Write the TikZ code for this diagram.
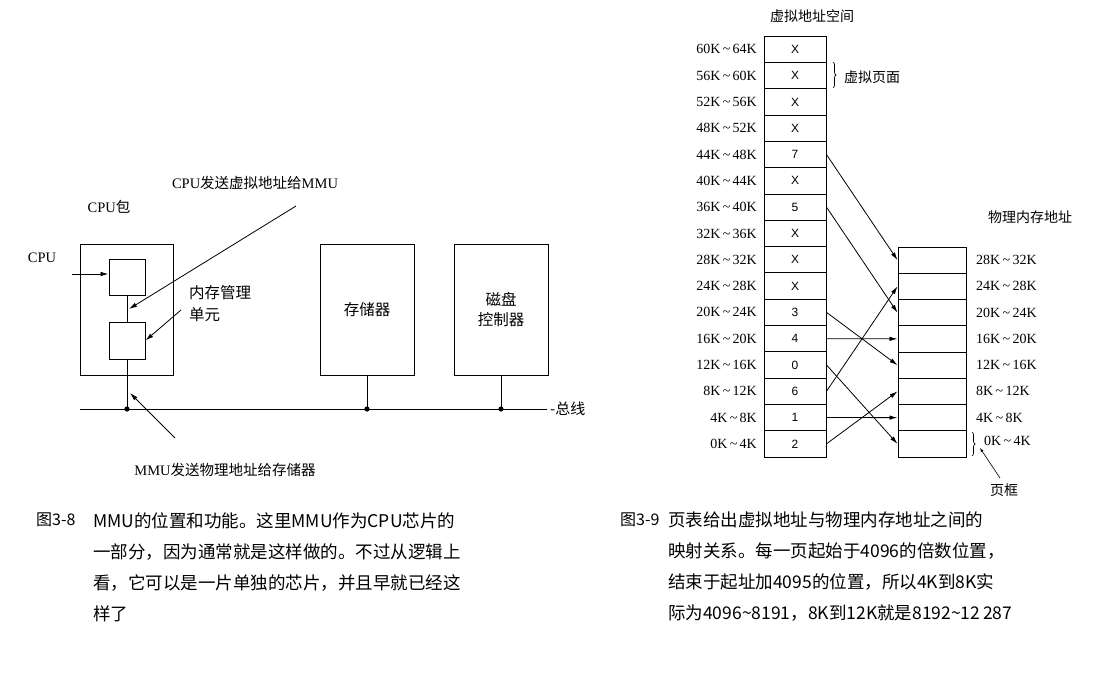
\documentclass[tikz,border=0pt]{standalone}
\usepackage{fontspec}
\setmainfont{Liberation Serif}
\newfontfamily\cjk{Noto Sans CJK SC}
\newfontfamily\sfx{Liberation Sans}
\usetikzlibrary{arrows.meta,decorations.pathreplacing}
\newcommand\tl{\,\char"7E\,}
\begin{document}
\begin{tikzpicture}[x=1pt,y=-1pt,
  box/.style={draw,line width=1pt,minimum width=#1,inner sep=0},
  lab/.style={font=\fontsize{14.5}{16}\selectfont,inner sep=1pt},
  captxt/.style={font=\cjk\fontsize{17.5}{31}\selectfont,align=left,anchor=north west,inner sep=0},
  arr/.style={-{Latex[length=8pt,width=4.5pt]},line width=0.8pt},
  ln/.style={line width=1pt},
  vcell/.style={draw,line width=1pt,minimum width=62pt,minimum height=26.3pt,inner sep=0,font=\sfx\fontsize{12}{14}\selectfont},
  pcell/.style={draw,line width=1pt,minimum width=68pt,minimum height=26.25pt,inner sep=0},
  vlab/.style={anchor=east,font=\fontsize{14}{15}\selectfont,inner sep=0},
  plab/.style={anchor=west,font=\fontsize{14}{15}\selectfont,inner sep=0}]
\useasboundingbox (0,0) rectangle (1109,696);
% ---- left figure
\node[box=93pt,minimum height=131pt] (pkg) at (126.5,309.5) {};
\node[box=36pt,minimum height=36pt] (cpu) at (127,277) {};
\node[box=36pt,minimum height=37pt] (mmu) at (127,340.5) {};
\node[box=94pt,minimum height=131pt,lab,font=\cjk\fontsize{15.5}{17}\selectfont] (mem) at (367,309.5) {存储器};
\node[box=94pt,minimum height=131pt,lab,align=center,font=\cjk\fontsize{15.5}{20}\selectfont] (disk) at (501,309.5) {磁盘\\控制器};
\coordinate (b0) at (80,409); \coordinate (b1) at (547,409);
\draw[ln] (b0) -- (b1);
\node[lab,anchor=west,font=\cjk\fontsize{15}{17}\selectfont] (bus) at (549,409) {-总线};
\coordinate (d1) at (127,409); \coordinate (d2) at (367,409); \coordinate (d3) at (501,409);
\draw[ln] (cpu.south) -- (mmu.north);
\draw[ln] (mmu.south) -- (d1);
\draw[ln] (mem.south) -- (d2);
\draw[ln] (disk.south) -- (d3);
\foreach \d in {d1,d2,d3} \fill (\d) circle (2.6pt);
\node[lab] (pkgl) at (109,207) {CPU{\cjk 包}};
\node[lab] (cpul) at (42,258) {CPU};
\coordinate (c0) at (72,274);
\draw[arr] (c0) -- (cpu.west|-c0);
\node[lab] (t1) at (255,183) {CPU{\cjk 发送虚拟地址给}MMU};
\coordinate (t1e) at (296,206); \coordinate (t1h) at (129,309);
\draw[arr] (t1e) -- (t1h);
\node[lab,anchor=west,align=left,font=\cjk\fontsize{15.5}{22}\selectfont] (mmul) at (188,304) {内存管理\\单元};
\coordinate (m0) at (181,310);
\draw[arr] (m0) -- (mmu.east);
\node[lab] (t2) at (225,470) {MMU{\cjk 发送物理地址给存储器}};
\coordinate (t2e) at (175,438); \coordinate (t2h) at (130,393);
\draw[arr] (t2e) -- (t2h);
% ---- right figure
\node[lab,font=\cjk\fontsize{14}{16}\selectfont] (vas) at (812,16) {虚拟地址空间};
\foreach [count=\i from 0] \v/\r in {2/0K,1/4K,6/8K,0/12K,4/16K,3/20K,X/24K,X/28K,X/32K,5/36K,X/40K,7/44K,X/48K,X/52K,X/56K,X/60K}{
  \pgfmathtruncatemacro\hi{(\i+1)*4}
  \node[vcell] (v\i) at (795,{457-(\i+0.5)*26.3}) {\v};
  \node[vlab] (vl\i) at (757,{457-(\i+0.5)*26.3}) {\r\tl\hi K};
}
\foreach \i in {0,...,7}{
  \pgfmathtruncatemacro\lo{\i*4}\pgfmathtruncatemacro\hi{\i*4+4}
  \node[pcell] (p\i) at (932,{457-(\i+0.5)*26.25}) {};
  \ifnum\i>0 \node[plab] (pl\i) at (976,{457-(\i+0.5)*26.25}) {\lo K\tl\hi K};\fi
}
\node[lab,font=\cjk\fontsize{14}{16}\selectfont] (pma) at (1030,217) {物理内存地址};
\draw[line width=0.7pt,decorate,decoration={brace,amplitude=3pt}] (833,62) -- (833,88);
\node[lab,anchor=west,font=\cjk\fontsize{14}{16}\selectfont] (vp) at (843,77) {虚拟页面};
\draw[line width=0.7pt,decorate,decoration={brace,amplitude=3pt}] (972,432) -- (972,456);
\node[plab] (pl0) at (984,441) {0K\tl 4K};
\node[lab,font=\cjk\fontsize{14}{16}\selectfont] (pf) at (1004,490) {页框};
\coordinate (pfa) at (1000,478); \coordinate (pfb) at (980,448);
\draw[line width=0.6pt,-{Latex[length=4pt,width=3pt]}] (pfa) -- (pfb);
\foreach \a/\b in {11/7,9/5,5/3,4/4,3/0,2/6,1/1,0/2}
  \draw[arr] (v\a.east) -- (p\b.west);
% ---- captions
\node[captxt,font=\cjk\fontsize{16}{31}\selectfont] (c8) at (36,513) {图3-8};
\node[captxt] (c8t) at (93,512) {MMU的位置和功能。这里MMU作为CPU芯片的\\一部分，因为通常就是这样做的。不过从逻辑上\\看，它可以是一片单独的芯片，并且早就已经这\\样了};
\node[captxt,font=\cjk\fontsize{16}{31}\selectfont] (c9) at (620,513) {图3-9};
\node[captxt] (c9t) at (668,512) {页表给出虚拟地址与物理内存地址之间的\\映射关系。每一页起始于4096的倍数位置，\\结束于起址加4095的位置，所以4K到8K实\\际为4096\char"7E 8191，8K到12K就是8192\char"7E 12\,287};
\end{tikzpicture}
\end{document}
